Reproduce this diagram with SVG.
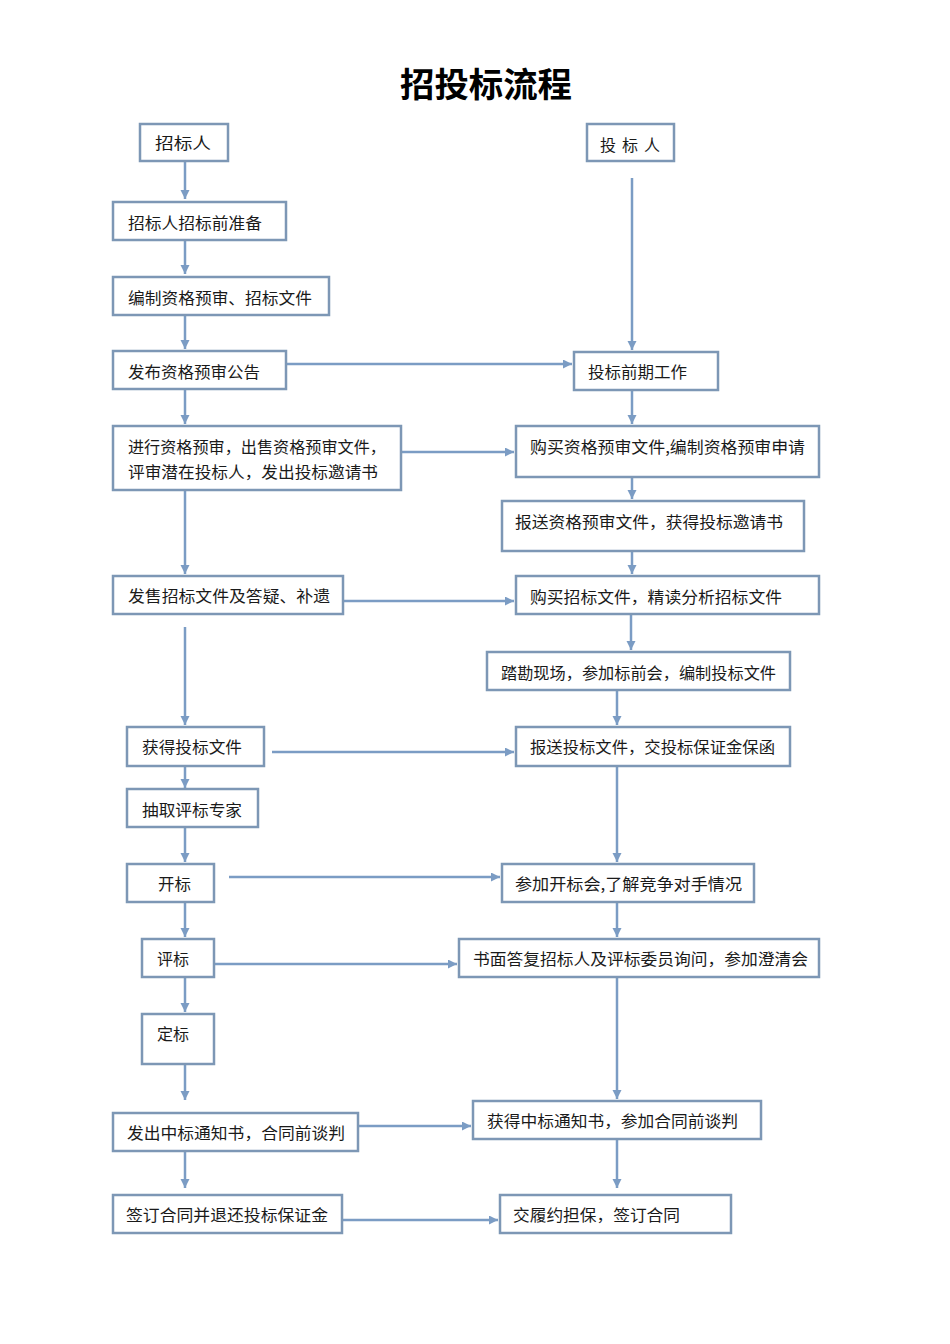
<svg xmlns="http://www.w3.org/2000/svg" width="950" height="1344" viewBox="0 0 950 1344">
<style>
.bx{fill:#fff;stroke:#7D97B5;stroke-width:2.5}
.t{font-family:"Noto Sans CJK SC","Noto Sans",sans-serif;font-size:16px;fill:#1a1a1a}
.c{fill:none;stroke:#7B9CC4;stroke-width:2.5}
.title{font-family:"Noto Sans CJK SC","Noto Sans",sans-serif;font-size:34px;font-weight:bold;fill:#000}
</style>
<defs>
<marker id="ah" markerUnits="userSpaceOnUse" markerWidth="10" markerHeight="10" refX="9" refY="4.5" orient="auto">
<path d="M0,0 L9,4.5 L0,9 z" fill="#7B9CC4"/>
</marker>
</defs>
<rect width="950" height="1344" fill="#fff"/>
<text class="title" x="400" y="97" textLength="172" lengthAdjust="spacingAndGlyphs">招投标流程</text>

<g id="connectors">
<path class="c" d="M185,161 V199" marker-end="url(#ah)"/>
<path class="c" d="M185,240 V274" marker-end="url(#ah)"/>
<path class="c" d="M185,315 V349" marker-end="url(#ah)"/>
<path class="c" d="M185,389 V424" marker-end="url(#ah)"/>
<path class="c" d="M185,490 V574" marker-end="url(#ah)"/>
<path class="c" d="M185,627 V725" marker-end="url(#ah)"/>
<path class="c" d="M185,766 V788" marker-end="url(#ah)"/>
<path class="c" d="M185,827 V862" marker-end="url(#ah)"/>
<path class="c" d="M185,902 V937" marker-end="url(#ah)"/>
<path class="c" d="M185,977 V1012" marker-end="url(#ah)"/>
<path class="c" d="M185,1064 V1100" marker-end="url(#ah)"/>
<path class="c" d="M185,1151 V1188" marker-end="url(#ah)"/>

<path class="c" d="M632,178 V350" marker-end="url(#ah)"/>
<path class="c" d="M632,390 V424" marker-end="url(#ah)"/>
<path class="c" d="M632,477 V499" marker-end="url(#ah)"/>
<path class="c" d="M632,551 V574" marker-end="url(#ah)"/>
<path class="c" d="M631,614 V650" marker-end="url(#ah)"/>
<path class="c" d="M617,690 V725" marker-end="url(#ah)"/>
<path class="c" d="M617,766 V862" marker-end="url(#ah)"/>
<path class="c" d="M617,902 V937" marker-end="url(#ah)"/>
<path class="c" d="M617,977 V1099" marker-end="url(#ah)"/>
<path class="c" d="M617,1139 V1188" marker-end="url(#ah)"/>

<path class="c" d="M286,364 H572" marker-end="url(#ah)"/>
<path class="c" d="M401,452 H514" marker-end="url(#ah)"/>
<path class="c" d="M343,601 H514" marker-end="url(#ah)"/>
<path class="c" d="M272,752 H514" marker-end="url(#ah)"/>
<path class="c" d="M229,877 H500" marker-end="url(#ah)"/>
<path class="c" d="M214,964 H457" marker-end="url(#ah)"/>
<path class="c" d="M358,1126 H471" marker-end="url(#ah)"/>
<path class="c" d="M342,1220 H498" marker-end="url(#ah)"/>
</g>

<g id="n-zbr"><rect class="bx" x="140" y="124" width="88" height="37"/><text class="t" x="155" y="149" font-size="18" textLength="56" lengthAdjust="spacingAndGlyphs">招标人</text></g>
<g id="n-l1"><rect class="bx" x="113" y="202" width="173" height="38"/><text class="t" x="128" y="229" textLength="134" lengthAdjust="spacingAndGlyphs">招标人招标前准备</text></g>
<g id="n-l2"><rect class="bx" x="113" y="277" width="216" height="38"/><text class="t" x="128" y="304" textLength="184" lengthAdjust="spacingAndGlyphs">编制资格预审、招标文件</text></g>
<g id="n-l3"><rect class="bx" x="113" y="351" width="173" height="38"/><text class="t" x="128" y="378" textLength="132" lengthAdjust="spacingAndGlyphs">发布资格预审公告</text></g>
<g id="n-l4"><rect class="bx" x="113" y="426" width="288" height="64"/><text class="t" x="128" y="453" textLength="258" lengthAdjust="spacingAndGlyphs">进行资格预审，出售资格预审文件，</text><text class="t" x="128" y="478" textLength="250" lengthAdjust="spacingAndGlyphs">评审潜在投标人，发出投标邀请书</text></g>
<g id="n-l5"><rect class="bx" x="113" y="576" width="230" height="38"/><text class="t" x="128" y="602" textLength="202" lengthAdjust="spacingAndGlyphs">发售招标文件及答疑、补遗</text></g>
<g id="n-l6"><rect class="bx" x="127" y="727" width="137" height="39"/><text class="t" x="142" y="753" textLength="100" lengthAdjust="spacingAndGlyphs">获得投标文件</text></g>
<g id="n-l7"><rect class="bx" x="127" y="789" width="131" height="38"/><text class="t" x="142" y="816" textLength="100" lengthAdjust="spacingAndGlyphs">抽取评标专家</text></g>
<g id="n-l8"><rect class="bx" x="127" y="864" width="87" height="38"/><text class="t" x="158" y="890" textLength="33" lengthAdjust="spacingAndGlyphs">开标</text></g>
<g id="n-l9"><rect class="bx" x="142" y="939" width="72" height="38"/><text class="t" x="157" y="965" textLength="32" lengthAdjust="spacingAndGlyphs">评标</text></g>
<g id="n-l10"><rect class="bx" x="142" y="1014" width="72" height="50"/><text class="t" x="157" y="1040" textLength="32" lengthAdjust="spacingAndGlyphs">定标</text></g>
<g id="n-l11"><rect class="bx" x="113" y="1113" width="245" height="38"/><text class="t" x="127" y="1139" textLength="218" lengthAdjust="spacingAndGlyphs">发出中标通知书，合同前谈判</text></g>
<g id="n-l12"><rect class="bx" x="113" y="1195" width="229" height="38"/><text class="t" x="126" y="1221" textLength="202" lengthAdjust="spacingAndGlyphs">签订合同并退还投标保证金</text></g>

<g id="n-tbr"><rect class="bx" x="587" y="124" width="87" height="37"/><text class="t" x="600" y="151" textLength="60" lengthAdjust="spacing">投 标 人</text></g>
<g id="n-r1"><rect class="bx" x="574" y="352" width="144" height="38"/><text class="t" x="588" y="378" textLength="99" lengthAdjust="spacingAndGlyphs">投标前期工作</text></g>
<g id="n-r2"><rect class="bx" x="516" y="426" width="303" height="51"/><text class="t" x="530" y="453" textLength="275" lengthAdjust="spacingAndGlyphs">购买资格预审文件,编制资格预审申请</text></g>
<g id="n-r3"><rect class="bx" x="502" y="501" width="302" height="50"/><text class="t" x="515" y="528" textLength="268" lengthAdjust="spacingAndGlyphs">报送资格预审文件，获得投标邀请书</text></g>
<g id="n-r4"><rect class="bx" x="516" y="576" width="303" height="38"/><text class="t" x="530" y="603" textLength="252" lengthAdjust="spacingAndGlyphs">购买招标文件，精读分析招标文件</text></g>
<g id="n-r5"><rect class="bx" x="487" y="652" width="303" height="38"/><text class="t" x="501" y="679" textLength="275" lengthAdjust="spacingAndGlyphs">踏勘现场，参加标前会，编制投标文件</text></g>
<g id="n-r6"><rect class="bx" x="516" y="727" width="274" height="39"/><text class="t" x="530" y="753" textLength="245" lengthAdjust="spacingAndGlyphs">报送投标文件，交投标保证金保函</text></g>
<g id="n-r7"><rect class="bx" x="502" y="864" width="252" height="38"/><text class="t" x="515" y="890" textLength="227" lengthAdjust="spacingAndGlyphs">参加开标会,了解竞争对手情况</text></g>
<g id="n-r8"><rect class="bx" x="459" y="939" width="360" height="38"/><text class="t" x="473" y="965" textLength="335" lengthAdjust="spacingAndGlyphs">书面答复招标人及评标委员询问，参加澄清会</text></g>
<g id="n-r9"><rect class="bx" x="473" y="1101" width="288" height="38"/><text class="t" x="487" y="1127" textLength="251" lengthAdjust="spacingAndGlyphs">获得中标通知书，参加合同前谈判</text></g>
<g id="n-r10"><rect class="bx" x="500" y="1195" width="231" height="38"/><text class="t" x="513" y="1221" textLength="167" lengthAdjust="spacingAndGlyphs">交履约担保，签订合同</text></g>
</svg>
